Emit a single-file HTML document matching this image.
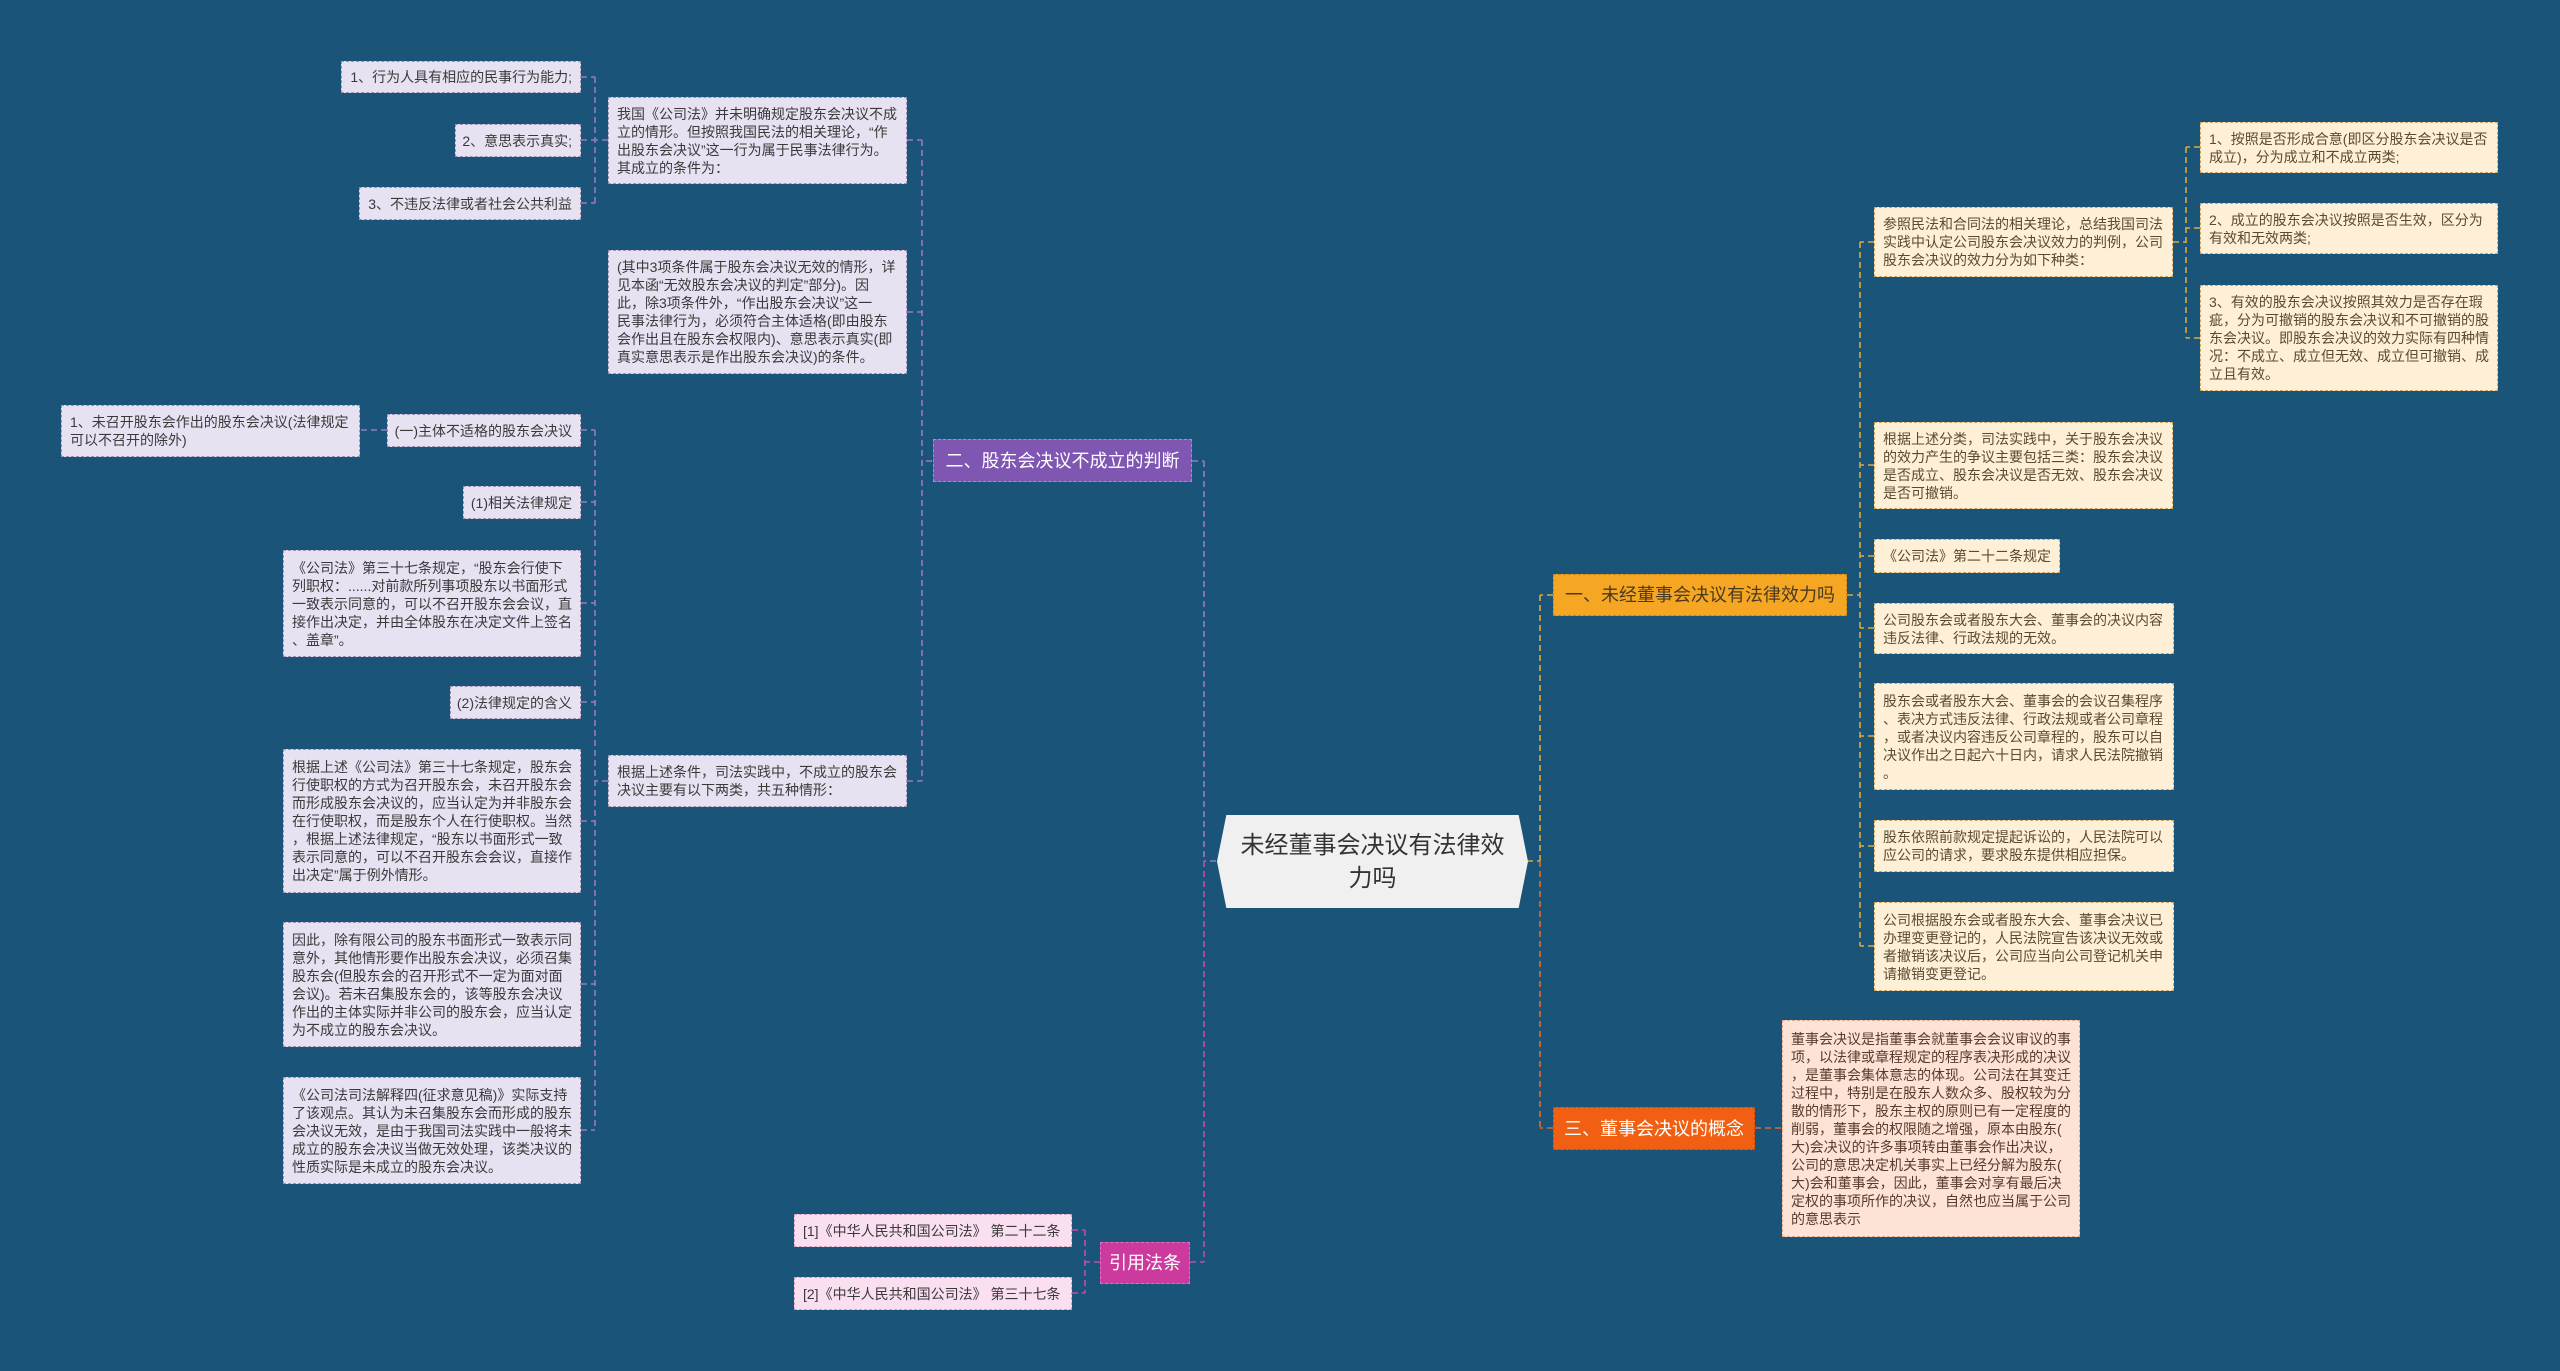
<!DOCTYPE html>
<html><head><meta charset="utf-8"><style>
html,body{margin:0;padding:0}
body{width:2560px;height:1371px;background:#1a5479;position:relative;overflow:hidden;font-family:"Liberation Sans","Noto Sans CJK SC",sans-serif;}
.b{position:absolute;box-sizing:border-box;display:flex;align-items:center;padding:0 8px;font-size:14px;line-height:18px;white-space:nowrap;color:#3a3a3a;}
.l{background:#e8e1f1;border:1.5px dashed #9c92b6;}
.r{background:#fdf0d6;border:1.5px dashed #c9a865;color:#5a4a30;}
.p{background:#f9dff0;border:1.5px dashed #d0a0c0;}
.c{background:#fde3d5;border:1.5px dashed #e4a888;color:#5a3a2a;}
.e{justify-content:flex-end}
svg{position:absolute;left:0;top:0}
</style></head><body>
<svg width="2560" height="1371">
<g fill="none" stroke-width="1.6" stroke-dasharray="6,4">
<g stroke="#9a78c8">
<path d="M1216 861H1204M1204 461V861M1192 461H1204"/>
<path d="M932 461H922M922 140V781M907 140H922M907 312H922M907 781H922"/>
<path d="M608 140H595M595 77V203M581 77H595M581 140H595M581 203H595"/>
<path d="M608 781H595M595 430V1130M581 430H595M581 502H595M581 603H595M581 702H595M581 821H595M581 984H595M581 1130H595"/>
<path d="M387 430H360"/>
</g>
<g stroke="#c64aa8">
<path d="M1204 861V1262M1190 1262H1204"/>
<path d="M1100 1262H1085M1085 1230V1293M1072 1230H1085M1072 1293H1085"/>
</g>
<g stroke="#e0a83a">
<path d="M1527 861H1540M1540 595V861M1553 595H1540"/>
<path d="M1847 595H1860M1860 242V946M1874 242H1860M1874 465H1860M1874 556H1860M1874 628H1860M1874 736H1860M1874 846H1860M1874 946H1860"/>
<path d="M2173 242H2186M2186 147V338M2200 147H2186M2200 228H2186M2200 338H2186"/>
</g>
<g stroke="#e06a2a">
<path d="M1540 861V1128M1553 1128H1540M1755 1128H1782"/>
</g>
</g>
</svg>

<div style="position:absolute;left:1217px;top:815px;width:311px;height:93px;background:#f0f0f0;clip-path:polygon(3% 0,97% 0,100% 50%,97% 100%,3% 100%,0 50%);display:flex;align-items:center;justify-content:center;text-align:center;font-size:24px;line-height:33px;color:#333;">未经董事会决议有法律效<br>力吗</div>

<div class="b" style="left:933px;top:439px;width:259px;height:43px;background:#7f57b3;border:1.5px dashed #a88ad0;color:#fff;font-size:18px;justify-content:center">二、股东会决议不成立的判断</div>
<div class="b" style="left:1100px;top:1242px;width:90px;height:42px;background:#cc3a9e;border:1.5px dashed #e070c0;color:#fff;font-size:18px;justify-content:center">引用法条</div>
<div class="b" style="left:1553px;top:574px;width:294px;height:42px;background:#f5a623;border:1.5px dashed #c88418;color:#4a3a20;font-size:18px;justify-content:center">一、未经董事会决议有法律效力吗</div>
<div class="b" style="left:1553px;top:1107px;width:202px;height:43px;background:#f15f12;border:1.5px dashed #c84a08;color:#fff;font-size:18px;justify-content:center">三、董事会决议的概念</div>

<div class="b l e" style="left:341px;top:61px;width:240px;height:32px">1、行为人具有相应的民事行为能力;</div>
<div class="b l e" style="left:455px;top:124px;width:126px;height:33px">2、意思表示真实;</div>
<div class="b l e" style="left:359px;top:187px;width:222px;height:33px">3、不违反法律或者社会公共利益</div>
<div class="b l" style="left:608px;top:97px;width:299px;height:87px">我国《公司法》并未明确规定股东会决议不成<br>立的情形。但按照我国民法的相关理论，“作<br>出股东会决议”这一行为属于民事法律行为。<br>其成立的条件为：</div>
<div class="b l" style="left:608px;top:250px;width:299px;height:124px">(其中3项条件属于股东会决议无效的情形，详<br>见本函“无效股东会决议的判定”部分)。因<br>此，除3项条件外，“作出股东会决议”这一<br>民事法律行为，必须符合主体适格(即由股东<br>会作出且在股东会权限内)、意思表示真实(即<br>真实意思表示是作出股东会决议)的条件。</div>
<div class="b l" style="left:608px;top:755px;width:299px;height:52px">根据上述条件，司法实践中，不成立的股东会<br>决议主要有以下两类，共五种情形：</div>
<div class="b l" style="left:61px;top:405px;width:299px;height:52px">1、未召开股东会作出的股东会决议(法律规定<br>可以不召开的除外)</div>
<div class="b l e" style="left:387px;top:414px;width:194px;height:33px">(一)主体不适格的股东会决议</div>
<div class="b l e" style="left:463px;top:486px;width:118px;height:33px">(1)相关法律规定</div>
<div class="b l" style="left:283px;top:550px;width:298px;height:107px">《公司法》第三十七条规定，“股东会行使下<br>列职权：......对前款所列事项股东以书面形式<br>一致表示同意的，可以不召开股东会会议，直<br>接作出决定，并由全体股东在决定文件上签名<br>、盖章”。</div>
<div class="b l e" style="left:450px;top:686px;width:131px;height:33px">(2)法律规定的含义</div>
<div class="b l" style="left:283px;top:749px;width:298px;height:144px">根据上述《公司法》第三十七条规定，股东会<br>行使职权的方式为召开股东会，未召开股东会<br>而形成股东会决议的，应当认定为并非股东会<br>在行使职权，而是股东个人在行使职权。当然<br>，根据上述法律规定，“股东以书面形式一致<br>表示同意的，可以不召开股东会会议，直接作<br>出决定”属于例外情形。</div>
<div class="b l" style="left:283px;top:922px;width:298px;height:125px">因此，除有限公司的股东书面形式一致表示同<br>意外，其他情形要作出股东会决议，必须召集<br>股东会(但股东会的召开形式不一定为面对面<br>会议)。若未召集股东会的，该等股东会决议<br>作出的主体实际并非公司的股东会，应当认定<br>为不成立的股东会决议。</div>
<div class="b l" style="left:283px;top:1077px;width:298px;height:107px">《公司法司法解释四(征求意见稿)》实际支持<br>了该观点。其认为未召集股东会而形成的股东<br>会决议无效，是由于我国司法实践中一般将未<br>成立的股东会决议当做无效处理，该类决议的<br>性质实际是未成立的股东会决议。</div>
<div class="b p" style="left:794px;top:1214px;width:278px;height:33px">[1]《中华人民共和国公司法》 第二十二条</div>
<div class="b p" style="left:794px;top:1277px;width:278px;height:33px">[2]《中华人民共和国公司法》 第三十七条</div>

<div class="b r" style="left:1874px;top:207px;width:299px;height:70px">参照民法和合同法的相关理论，总结我国司法<br>实践中认定公司股东会决议效力的判例，公司<br>股东会决议的效力分为如下种类：</div>
<div class="b r" style="left:2200px;top:122px;width:298px;height:51px">1、按照是否形成合意(即区分股东会决议是否<br>成立)，分为成立和不成立两类;</div>
<div class="b r" style="left:2200px;top:203px;width:298px;height:51px">2、成立的股东会决议按照是否生效，区分为<br>有效和无效两类;</div>
<div class="b r" style="left:2200px;top:285px;width:298px;height:106px">3、有效的股东会决议按照其效力是否存在瑕<br>疵，分为可撤销的股东会决议和不可撤销的股<br>东会决议。即股东会决议的效力实际有四种情<br>况：不成立、成立但无效、成立但可撤销、成<br>立且有效。</div>
<div class="b r" style="left:1874px;top:422px;width:299px;height:87px">根据上述分类，司法实践中，关于股东会决议<br>的效力产生的争议主要包括三类：股东会决议<br>是否成立、股东会决议是否无效、股东会决议<br>是否可撤销。</div>
<div class="b r" style="left:1874px;top:539px;width:186px;height:34px">《公司法》第二十二条规定</div>
<div class="b r" style="left:1874px;top:603px;width:300px;height:51px">公司股东会或者股东大会、董事会的决议内容<br>违反法律、行政法规的无效。</div>
<div class="b r" style="left:1874px;top:683px;width:300px;height:107px">股东会或者股东大会、董事会的会议召集程序<br>、表决方式违反法律、行政法规或者公司章程<br>，或者决议内容违反公司章程的，股东可以自<br>决议作出之日起六十日内，请求人民法院撤销<br>。</div>
<div class="b r" style="left:1874px;top:820px;width:300px;height:52px">股东依照前款规定提起诉讼的，人民法院可以<br>应公司的请求，要求股东提供相应担保。</div>
<div class="b r" style="left:1874px;top:902px;width:300px;height:89px">公司根据股东会或者股东大会、董事会决议已<br>办理变更登记的，人民法院宣告该决议无效或<br>者撤销该决议后，公司应当向公司登记机关申<br>请撤销变更登记。</div>
<div class="b c" style="left:1782px;top:1020px;width:298px;height:217px">董事会决议是指董事会就董事会会议审议的事<br>项，以法律或章程规定的程序表决形成的决议<br>，是董事会集体意志的体现。公司法在其变迁<br>过程中，特别是在股东人数众多、股权较为分<br>散的情形下，股东主权的原则已有一定程度的<br>削弱，董事会的权限随之增强，原本由股东(<br>大)会决议的许多事项转由董事会作出决议，<br>公司的意思决定机关事实上已经分解为股东(<br>大)会和董事会，因此，董事会对享有最后决<br>定权的事项所作的决议，自然也应当属于公司<br>的意思表示</div>
</body></html>
